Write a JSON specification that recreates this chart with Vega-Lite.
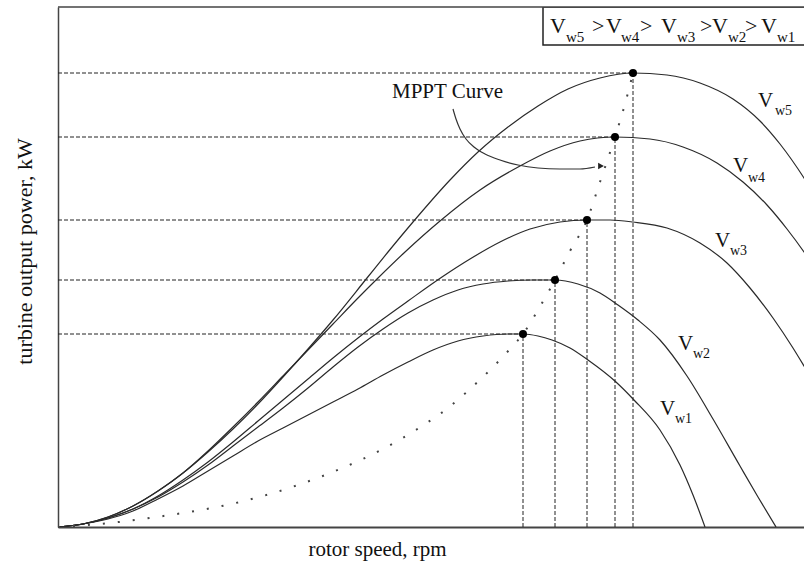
{
  "$schema": "https://vega.github.io/schema/vega-lite/v6.json",
  "width": 746,
  "height": 520,
  "autosize": {"type": "none"},
  "padding": {"left": 58, "top": 7, "right": 0, "bottom": 46},
  "background": "white",
  "config": {
    "view": {"stroke": null},
    "font": "Times New Roman, Liberation Serif, serif",
    "axisX": {"labels": false, "ticks": false, "grid": false, "domainColor": "#444", "domainWidth": 2, "titleFont": "Times New Roman, Liberation Serif, serif", "titleFontSize": 21, "titleFontWeight": "normal", "titleColor": "#111", "titleX": 319, "titleY": 28, "titleBaseline": "alphabetic", "titleAlign": "center"},
    "axisY": {"labels": false, "ticks": false, "grid": false, "domainColor": "#444", "domainWidth": 1.5, "titleFont": "Times New Roman, Liberation Serif, serif", "titleFontSize": 22, "titleFontWeight": "normal", "titleColor": "#111", "titleX": -27, "titleY": 244, "titleAngle": -90, "titleBaseline": "alphabetic", "titleAlign": "center"}
  },
  "datasets": {
    "curves": [
      {"s": "Vw1", "x": 0, "y": 0}, {"s": "Vw1", "x": 25, "y": 3}, {"s": "Vw1", "x": 50, "y": 8}, {"s": "Vw1", "x": 75, "y": 16}, {"s": "Vw1", "x": 100, "y": 28}, {"s": "Vw1", "x": 125, "y": 41}, {"s": "Vw1", "x": 150, "y": 56}, {"s": "Vw1", "x": 175, "y": 71}, {"s": "Vw1", "x": 200, "y": 86}, {"s": "Vw1", "x": 225, "y": 99}, {"s": "Vw1", "x": 250, "y": 112}, {"s": "Vw1", "x": 275, "y": 125}, {"s": "Vw1", "x": 300, "y": 138}, {"s": "Vw1", "x": 325, "y": 152}, {"s": "Vw1", "x": 350, "y": 165}, {"s": "Vw1", "x": 375, "y": 177}, {"s": "Vw1", "x": 400, "y": 186}, {"s": "Vw1", "x": 425, "y": 191}, {"s": "Vw1", "x": 450, "y": 193}, {"s": "Vw1", "x": 465, "y": 193}, {"s": "Vw1", "x": 480, "y": 191}, {"s": "Vw1", "x": 494, "y": 187}, {"s": "Vw1", "x": 512, "y": 179}, {"s": "Vw1", "x": 530, "y": 167}, {"s": "Vw1", "x": 558, "y": 145}, {"s": "Vw1", "x": 576, "y": 127}, {"s": "Vw1", "x": 602, "y": 97}, {"s": "Vw1", "x": 622, "y": 62}, {"s": "Vw1", "x": 635, "y": 32}, {"s": "Vw1", "x": 647, "y": 0},
      {"s": "Vw2", "x": 0, "y": 0}, {"s": "Vw2", "x": 25, "y": 3}, {"s": "Vw2", "x": 50, "y": 9}, {"s": "Vw2", "x": 75, "y": 18}, {"s": "Vw2", "x": 100, "y": 30}, {"s": "Vw2", "x": 125, "y": 45}, {"s": "Vw2", "x": 150, "y": 62}, {"s": "Vw2", "x": 175, "y": 81}, {"s": "Vw2", "x": 200, "y": 100}, {"s": "Vw2", "x": 225, "y": 119}, {"s": "Vw2", "x": 250, "y": 139}, {"s": "Vw2", "x": 275, "y": 160}, {"s": "Vw2", "x": 300, "y": 180}, {"s": "Vw2", "x": 325, "y": 198}, {"s": "Vw2", "x": 350, "y": 214}, {"s": "Vw2", "x": 375, "y": 227}, {"s": "Vw2", "x": 400, "y": 237}, {"s": "Vw2", "x": 425, "y": 243}, {"s": "Vw2", "x": 450, "y": 246}, {"s": "Vw2", "x": 475, "y": 247}, {"s": "Vw2", "x": 497, "y": 247}, {"s": "Vw2", "x": 520, "y": 243}, {"s": "Vw2", "x": 542, "y": 234}, {"s": "Vw2", "x": 560, "y": 222}, {"s": "Vw2", "x": 580, "y": 207}, {"s": "Vw2", "x": 602, "y": 187}, {"s": "Vw2", "x": 629, "y": 151}, {"s": "Vw2", "x": 655, "y": 108}, {"s": "Vw2", "x": 682, "y": 61}, {"s": "Vw2", "x": 700, "y": 30}, {"s": "Vw2", "x": 718, "y": 0},
      {"s": "Vw3", "x": 0, "y": 0}, {"s": "Vw3", "x": 25, "y": 3}, {"s": "Vw3", "x": 50, "y": 9}, {"s": "Vw3", "x": 75, "y": 18}, {"s": "Vw3", "x": 100, "y": 31}, {"s": "Vw3", "x": 125, "y": 47}, {"s": "Vw3", "x": 150, "y": 65}, {"s": "Vw3", "x": 175, "y": 85}, {"s": "Vw3", "x": 200, "y": 106}, {"s": "Vw3", "x": 225, "y": 127}, {"s": "Vw3", "x": 250, "y": 148}, {"s": "Vw3", "x": 275, "y": 169}, {"s": "Vw3", "x": 300, "y": 189}, {"s": "Vw3", "x": 325, "y": 208}, {"s": "Vw3", "x": 350, "y": 226}, {"s": "Vw3", "x": 384, "y": 250}, {"s": "Vw3", "x": 412, "y": 268}, {"s": "Vw3", "x": 442, "y": 285}, {"s": "Vw3", "x": 472, "y": 298}, {"s": "Vw3", "x": 502, "y": 305}, {"s": "Vw3", "x": 529, "y": 307}, {"s": "Vw3", "x": 552, "y": 307}, {"s": "Vw3", "x": 575, "y": 305}, {"s": "Vw3", "x": 609, "y": 299}, {"s": "Vw3", "x": 642, "y": 284}, {"s": "Vw3", "x": 669, "y": 264}, {"s": "Vw3", "x": 692, "y": 239}, {"s": "Vw3", "x": 715, "y": 209}, {"s": "Vw3", "x": 735, "y": 179}, {"s": "Vw3", "x": 746, "y": 161}, {"s": "Vw3", "x": 762, "y": 134},
      {"s": "Vw4", "x": 0, "y": 0}, {"s": "Vw4", "x": 25, "y": 3}, {"s": "Vw4", "x": 50, "y": 10}, {"s": "Vw4", "x": 75, "y": 21}, {"s": "Vw4", "x": 100, "y": 36}, {"s": "Vw4", "x": 125, "y": 54}, {"s": "Vw4", "x": 150, "y": 76}, {"s": "Vw4", "x": 175, "y": 100}, {"s": "Vw4", "x": 200, "y": 125}, {"s": "Vw4", "x": 225, "y": 151}, {"s": "Vw4", "x": 250, "y": 177}, {"s": "Vw4", "x": 275, "y": 203}, {"s": "Vw4", "x": 300, "y": 229}, {"s": "Vw4", "x": 319, "y": 248}, {"s": "Vw4", "x": 347, "y": 275}, {"s": "Vw4", "x": 382, "y": 306}, {"s": "Vw4", "x": 422, "y": 337}, {"s": "Vw4", "x": 462, "y": 361}, {"s": "Vw4", "x": 492, "y": 376}, {"s": "Vw4", "x": 522, "y": 386}, {"s": "Vw4", "x": 557, "y": 390}, {"s": "Vw4", "x": 592, "y": 388}, {"s": "Vw4", "x": 625, "y": 380}, {"s": "Vw4", "x": 659, "y": 364}, {"s": "Vw4", "x": 685, "y": 345}, {"s": "Vw4", "x": 709, "y": 322}, {"s": "Vw4", "x": 729, "y": 298}, {"s": "Vw4", "x": 746, "y": 275}, {"s": "Vw4", "x": 762, "y": 251},
      {"s": "Vw5", "x": 0, "y": 0}, {"s": "Vw5", "x": 25, "y": 3}, {"s": "Vw5", "x": 50, "y": 10}, {"s": "Vw5", "x": 75, "y": 21}, {"s": "Vw5", "x": 100, "y": 36}, {"s": "Vw5", "x": 125, "y": 54}, {"s": "Vw5", "x": 150, "y": 75}, {"s": "Vw5", "x": 175, "y": 98}, {"s": "Vw5", "x": 200, "y": 123}, {"s": "Vw5", "x": 225, "y": 150}, {"s": "Vw5", "x": 250, "y": 178}, {"s": "Vw5", "x": 275, "y": 207}, {"s": "Vw5", "x": 309, "y": 249}, {"s": "Vw5", "x": 330, "y": 275}, {"s": "Vw5", "x": 355, "y": 305}, {"s": "Vw5", "x": 392, "y": 347}, {"s": "Vw5", "x": 420, "y": 375}, {"s": "Vw5", "x": 450, "y": 400}, {"s": "Vw5", "x": 480, "y": 421}, {"s": "Vw5", "x": 510, "y": 438}, {"s": "Vw5", "x": 542, "y": 449}, {"s": "Vw5", "x": 575, "y": 454}, {"s": "Vw5", "x": 609, "y": 452}, {"s": "Vw5", "x": 642, "y": 444}, {"s": "Vw5", "x": 675, "y": 428}, {"s": "Vw5", "x": 702, "y": 406}, {"s": "Vw5", "x": 722, "y": 383}, {"s": "Vw5", "x": 746, "y": 349}, {"s": "Vw5", "x": 762, "y": 323}
    ],
    "mppt": [
      {"x": 0, "y": 0}, {"x": 42, "y": 3}, {"x": 77, "y": 7}, {"x": 112, "y": 12}, {"x": 137, "y": 16}, {"x": 182, "y": 25}, {"x": 212, "y": 33}, {"x": 240, "y": 42}, {"x": 282, "y": 58}, {"x": 325, "y": 78}, {"x": 364, "y": 101}, {"x": 390, "y": 119}, {"x": 412, "y": 138}, {"x": 434, "y": 159}, {"x": 452, "y": 178}, {"x": 465, "y": 193}, {"x": 480, "y": 217}, {"x": 497, "y": 247}, {"x": 512, "y": 276}, {"x": 529, "y": 307}, {"x": 542, "y": 345}, {"x": 557, "y": 390}, {"x": 567, "y": 423}, {"x": 575, "y": 454}
    ],
    "peaks": [
      {"s": "Vw1", "x0": 0, "x": 465, "y0": 0, "y": 193}, {"s": "Vw2", "x0": 0, "x": 497, "y0": 0, "y": 247}, {"s": "Vw3", "x0": 0, "x": 529, "y0": 0, "y": 307}, {"s": "Vw4", "x0": 0, "x": 557, "y0": 0, "y": 390}, {"s": "Vw5", "x0": 0, "x": 575, "y0": 0, "y": 454}
    ],
    "arc": [
      {"x": 395, "y": 418}, {"x": 398, "y": 408}, {"x": 402, "y": 398}, {"x": 408, "y": 388}, {"x": 416, "y": 380}, {"x": 427, "y": 373}, {"x": 442, "y": 367}, {"x": 460, "y": 362}, {"x": 480, "y": 359}, {"x": 502, "y": 358}, {"x": 522, "y": 358}, {"x": 537, "y": 360}
    ],
    "arrowhead": [{"x": 543, "y": 361}],
    "box": [{"x": 485, "x2": 770, "y": 482, "y2": 520}],
    "frameTop": [{"x": 0, "x2": 746, "y": 520}],
    "bigText": [
      {"x": 700, "y": 420, "t": "V"}, {"x": 675, "y": 355, "t": "V"}, {"x": 657, "y": 280, "t": "V"}, {"x": 620, "y": 177, "t": "V"}, {"x": 602, "y": 112, "t": "V"},
      {"x": 334, "y": 429, "t": "MPPT Curve"}
    ],
    "subText": [
      {"x": 717, "y": 412, "t": "w5"}, {"x": 690, "y": 345, "t": "w4"}, {"x": 672, "y": 272, "t": "w3"}, {"x": 635, "y": 169, "t": "w2"}, {"x": 617, "y": 104, "t": "w1"}
    ],
    "legendBig": [
      {"x": 492, "y": 494, "t": "V"}, {"x": 534, "y": 494, "t": ">"}, {"x": 548, "y": 494, "t": "V"}, {"x": 582, "y": 494, "t": ">"}, {"x": 603, "y": 494, "t": "V"}, {"x": 642, "y": 494, "t": ">"}, {"x": 654, "y": 494, "t": "V"}, {"x": 687, "y": 494, "t": ">"}, {"x": 703, "y": 494, "t": "V"}
    ],
    "legendSub": [
      {"x": 508, "y": 485, "t": "w5"}, {"x": 563, "y": 485, "t": "w4"}, {"x": 619, "y": 485, "t": "w3"}, {"x": 670, "y": 485, "t": "w2"}, {"x": 719, "y": 485, "t": "w1"}
    ]
  },
  "encoding": {
    "x": {"type": "quantitative", "scale": {"domain": [0, 746], "nice": false, "zero": false}, "title": "rotor speed, rpm"},
    "y": {"type": "quantitative", "scale": {"domain": [0, 520], "nice": false, "zero": false}, "title": "turbine output power, kW"}
  },
  "layer": [
    {
      "data": {"name": "peaks"},
      "mark": {"type": "rule", "strokeDash": [4, 2], "strokeWidth": 1, "color": "#222"},
      "encoding": {
        "x": {"field": "x0", "type": "quantitative"},
        "x2": {"field": "x"},
        "y": {"field": "y", "type": "quantitative"}
      }
    },
    {
      "data": {"name": "peaks"},
      "mark": {"type": "rule", "strokeDash": [4, 2], "strokeWidth": 1, "color": "#222"},
      "encoding": {
        "x": {"field": "x", "type": "quantitative"},
        "y": {"field": "y0", "type": "quantitative"},
        "y2": {"field": "y"}
      }
    },
    {
      "data": {"name": "curves"},
      "mark": {"type": "line", "interpolate": "monotone", "color": "#2a2a2a", "strokeWidth": 1.2, "clip": true},
      "encoding": {
        "x": {"field": "x", "type": "quantitative"},
        "y": {"field": "y", "type": "quantitative"},
        "detail": {"field": "s", "type": "nominal"}
      }
    },
    {
      "data": {"name": "mppt"},
      "mark": {"type": "line", "interpolate": "monotone", "color": "#444", "strokeWidth": 2, "strokeDash": [2, 13]},
      "encoding": {
        "x": {"field": "x", "type": "quantitative"},
        "y": {"field": "y", "type": "quantitative"}
      }
    },
    {
      "data": {"name": "arc"},
      "mark": {"type": "line", "interpolate": "monotone", "color": "#333", "strokeWidth": 1.2},
      "encoding": {
        "x": {"field": "x", "type": "quantitative"},
        "y": {"field": "y", "type": "quantitative"}
      }
    },
    {
      "data": {"name": "arrowhead"},
      "mark": {"type": "point", "shape": "triangle-right", "filled": true, "color": "#222", "size": 45, "opacity": 1},
      "encoding": {
        "x": {"field": "x", "type": "quantitative"},
        "y": {"field": "y", "type": "quantitative"}
      }
    },
    {
      "data": {"name": "peaks"},
      "mark": {"type": "point", "filled": true, "color": "#000", "size": 65, "opacity": 1},
      "encoding": {
        "x": {"field": "x", "type": "quantitative"},
        "y": {"field": "y", "type": "quantitative"}
      }
    },
    {
      "data": {"name": "bigText"},
      "mark": {"type": "text", "align": "left", "baseline": "alphabetic", "font": "Times New Roman, Liberation Serif, serif", "fontSize": 21, "color": "#111"},
      "encoding": {
        "x": {"field": "x", "type": "quantitative"},
        "y": {"field": "y", "type": "quantitative"},
        "text": {"field": "t", "type": "nominal"}
      }
    },
    {
      "data": {"name": "subText"},
      "mark": {"type": "text", "align": "left", "baseline": "alphabetic", "font": "Times New Roman, Liberation Serif, serif", "fontSize": 14, "color": "#111"},
      "encoding": {
        "x": {"field": "x", "type": "quantitative"},
        "y": {"field": "y", "type": "quantitative"},
        "text": {"field": "t", "type": "nominal"}
      }
    },
    {
      "data": {"name": "box"},
      "mark": {"type": "rect", "fill": "white", "stroke": "#222", "strokeWidth": 1.5, "clip": true},
      "encoding": {
        "x": {"field": "x", "type": "quantitative"},
        "x2": {"field": "x2"},
        "y": {"field": "y", "type": "quantitative"},
        "y2": {"field": "y2"}
      }
    },
    {
      "data": {"name": "legendBig"},
      "mark": {"type": "text", "align": "left", "baseline": "alphabetic", "font": "Times New Roman, Liberation Serif, serif", "fontSize": 22, "color": "#111"},
      "encoding": {
        "x": {"field": "x", "type": "quantitative"},
        "y": {"field": "y", "type": "quantitative"},
        "text": {"field": "t", "type": "nominal"}
      }
    },
    {
      "data": {"name": "legendSub"},
      "mark": {"type": "text", "align": "left", "baseline": "alphabetic", "font": "Times New Roman, Liberation Serif, serif", "fontSize": 15, "color": "#111"},
      "encoding": {
        "x": {"field": "x", "type": "quantitative"},
        "y": {"field": "y", "type": "quantitative"},
        "text": {"field": "t", "type": "nominal"}
      }
    },
    {
      "data": {"name": "frameTop"},
      "mark": {"type": "rule", "color": "#444", "strokeWidth": 1.5},
      "encoding": {
        "x": {"field": "x", "type": "quantitative"},
        "x2": {"field": "x2"},
        "y": {"field": "y", "type": "quantitative"}
      }
    }
  ]
}
